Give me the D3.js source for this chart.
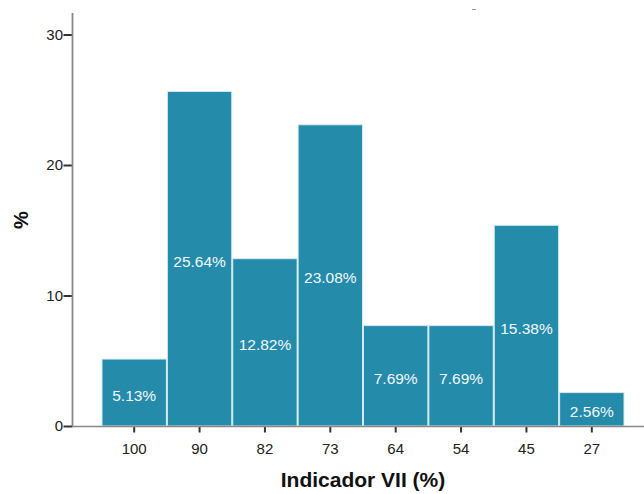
<!DOCTYPE html>
<html><head><meta charset="utf-8">
<script src="https://cdn.jsdelivr.net/npm/d3@7"></script>
<style>html,body{margin:0;padding:0;background:#fff;}svg{display:block;}</style>
</head><body>
<script>
const categories = ["100","90","82","73","64","54","45","27"];
const values = [5.13, 25.64, 12.82, 23.08, 7.69, 7.69, 15.38, 2.56];
const labels = ["5.13%","25.64%","12.82%","23.08%","7.69%","7.69%","15.38%","2.56%"];
const yTicks = [0, 10, 20, 30];

const W = 644, H = 494;
const svg = d3.select("body").append("svg").attr("width", W).attr("height", H);

const y = d3.scaleLinear().domain([0, 30]).range([426, 34.5]);
const x = d3.scaleBand().domain(categories).range([101.5, 624.5]).padding(0);
const FONT = "Liberation Sans, Arial, sans-serif";

// bars
svg.append("g").selectAll("rect").data(values).enter().append("rect")
  .attr("x", (d, i) => x(categories[i]) + 0.5)
  .attr("y", d => y(d))
  .attr("width", x.bandwidth() - 1)
  .attr("height", d => y(0) - y(d))
  .attr("fill", "#258baa")
  .attr("stroke", "#d4ebf2")
  .attr("stroke-width", 1);

// value labels
svg.append("g").selectAll("text").data(values).enter().append("text")
  .attr("x", (d, i) => x(categories[i]) + x.bandwidth() / 2)
  .attr("y", d => (y(d) + y(0)) / 2 + 8)
  .attr("text-anchor", "middle")
  .attr("font-family", FONT)
  .attr("font-size", 15.5)
  .attr("fill", "#f2f8fa")
  .text((d, i) => labels[i]);

// y axis
const yAxis = d3.axisLeft(y).tickValues(yTicks).tickSize(9).tickSizeOuter(0);
const gy = svg.append("g").attr("transform", "translate(72.5,0)").call(yAxis);
gy.select(".domain").remove();
gy.append("line").attr("x1", 0).attr("x2", 0).attr("y1", 13).attr("y2", 426)
  .attr("stroke", "#888").attr("stroke-width", 1.8);
gy.selectAll(".tick line").attr("stroke", "#333").attr("stroke-width", 2);
gy.selectAll(".tick text").attr("font-family", FONT)
  .attr("font-size", 15).attr("fill", "#222").attr("x", -9.5);

// x axis
const xAxis = d3.axisBottom(x).tickSize(6).tickSizeOuter(0);
const gx = svg.append("g").attr("transform", "translate(0,426.5)").call(xAxis);
gx.select(".domain").remove();
gx.append("line").attr("x1", 72).attr("x2", 644).attr("y1", 0).attr("y2", 0)
  .attr("stroke", "#888").attr("stroke-width", 1.6);
gx.selectAll(".tick line").attr("stroke", "#333").attr("stroke-width", 2);
gx.selectAll(".tick text").attr("font-family", FONT)
  .attr("font-size", 15).attr("fill", "#222").attr("dy", null).attr("y", 27);

// axis titles
svg.append("text").attr("x", 363).attr("y", 487).attr("text-anchor", "middle")
  .attr("font-family", FONT).attr("font-weight", "bold")
  .attr("font-size", 21).attr("fill", "#111").text("Indicador VII (%)");
svg.append("text").attr("transform", "translate(28,220) rotate(-90)").attr("text-anchor", "middle")
  .attr("font-family", FONT).attr("font-weight", "bold")
  .attr("font-size", 20).attr("fill", "#111").text("%");

// tiny mark at top
svg.append("line").attr("x1", 472).attr("x2", 476).attr("y1", 9.5).attr("y2", 9.5)
  .attr("stroke", "#999").attr("stroke-width", 1);
</script>
</body></html>
